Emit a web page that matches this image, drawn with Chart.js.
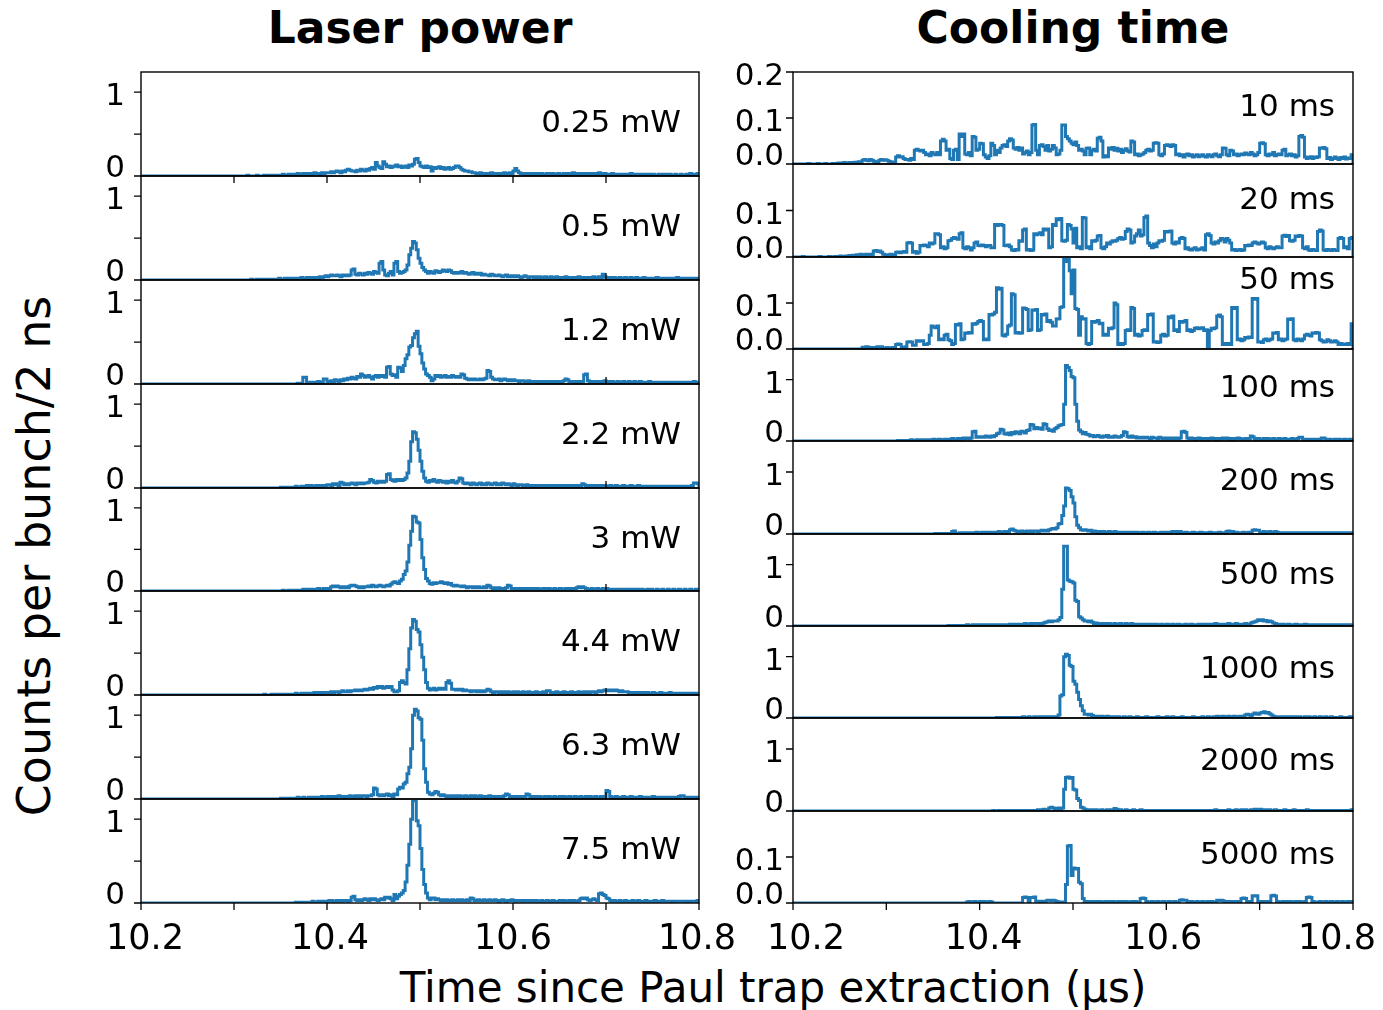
<!DOCTYPE html>
<html>
<head>
<meta charset="utf-8">
<title>Ion arrival histograms</title>
<script src="https://cdn.jsdelivr.net/npm/chart.js@4.4.1/dist/chart.umd.min.js"></script>
<style>
  html, body { margin: 0; padding: 0; background: #fff; }
  #fig { position: relative; width: 1383px; height: 1010px; overflow: hidden;
         font-family: "DejaVu Sans", sans-serif; color: #000; }
  #fig canvas { position: absolute; }
  .txt { position: absolute; white-space: nowrap; line-height: 1; }
  .title { font-weight: bold; font-size: 44px; transform: translateX(-50%); }
</style>
</head>
<body>
<div id="fig">
  <div class="txt title" style="left:420px; top:6px;">Laser power</div>
  <div class="txt title" style="left:1073px; top:6px;">Cooling time</div>
  <div class="txt" style="left:773px; top:967px; font-size:42px; transform:translateX(-50%);">Time since Paul trap extraction (µs)</div>
  <div class="txt" style="left:34px; top:556px; font-size:46px; transform:translate(-50%,-50%) rotate(-90deg);">Counts per bunch/2 ns</div>
</div>
<script>
// ---- binning ----
const BIN_START = 10.2;
const BIN_WIDTH = 0.002;
const X_MIN = 10.2;
const X_MAX = 10.8;

// ---- axis ticks ----
const xMajorTicks = [10.2, 10.4, 10.6, 10.8];
const xTickLabels = ['10.2', '10.4', '10.6', '10.8'];
const xAllTicks = [10.2, 10.3, 10.4, 10.5, 10.6, 10.7, 10.8];

// ---- panel names ----
const laserPowerNames = ['0.25 mW', '0.5 mW', '1.2 mW', '2.2 mW', '3 mW', '4.4 mW', '6.3 mW', '7.5 mW'];
const coolingTimeNames = ['10 ms', '20 ms', '50 ms', '100 ms', '200 ms', '500 ms', '1000 ms', '2000 ms', '5000 ms'];

// ---- y axes ----
const laserYMax = 1.24;
const laserYTicks = [0, 0.5, 1];
const laserYTickLabels = ['0', '', '1'];
const coolingYMax = [0.2, 0.2, 0.2, 1.5, 1.5, 1.5, 1.5, 1.5, 0.2];
const coolingYTicks = [[0, 0.1, 0.2], [0, 0.1], [0, 0.1], [0, 1], [0, 1], [0, 1], [0, 1], [0, 1], [0, 0.1]];
const coolingYTickLabels = [['0.0', '0.1', '0.2'], ['0.0', '0.1'], ['0.0', '0.1'], ['0', '1'], ['0', '1'], ['0', '1'], ['0', '1'], ['0', '1'], ['0.0', '0.1']];

// ---- counts per bunch per 2 ns bin, 10.2 to 10.8 us (300 bins) ----
const laser_0p25mW = [
0,0,0,0,0,0,0,0,0,0,0,
0,0,0,0,0,0,0,0,0,0,
0,0,0,0,0,0,0,0,0,0,
0,0,0,0,0,0,0,0,0,0,
0,0,0,0,0,0,0,0,0,0,
0,0,0,0,0,0,.01,0,0,0,
0,.01,0,0,0,.01,.01,0,.01,0,
.01,.01,0,.01,.01,.02,.01,.01,.02,.01,
.02,.01,.02,.03,.02,.02,.03,.02,.03,.03,
.02,.03,.04,.03,.03,.02,.04,.03,.04,.04,
.04,.05,.04,.05,.06,.05,.04,.06,.05,.07,
.08,.07,.06,.06,.05,.07,.06,.08,.07,.06,
.08,.07,.09,.1,.08,.16,.12,.1,.09,.17,
.14,.11,.12,.1,.11,.12,.13,.11,.12,.1,
.11,.12,.1,.13,.12,.14,.2,.21,.16,.12,
.11,.1,.12,.1,.11,.06,.1,.09,.1,.11,
.09,.1,.08,.09,.1,.08,.09,.1,.12,.12,
.1,.08,.07,.06,.06,.05,.05,.04,.04,.03,
.03,.04,.03,.03,.02,.03,.03,.04,.03,.03,
.03,.02,.03,.03,.04,.03,.03,.04,.03,.06,
.09,.06,.04,.03,.03,.02,.03,.03,.02,.03,
.02,.03,.03,.02,.03,.02,.02,.03,.03,.02,
.03,.02,.02,.03,.02,.02,.03,.02,.03,.03,
.02,.04,.03,.02,.03,.02,.03,.03,.02,.03,
.03,.02,.03,.03,.02,.04,.03,.02,.03,.02,
.02,.02,.03,.02,.02,.01,.02,.02,.01,.02,
.02,.01,.03,.02,.02,.01,.02,.01,.02,.02,
.01,.02,.02,.01,.02,.01,.01,.02,.01,.02,
.01,.02,.01,.02,.01,.01,.02,.01,.01,.02,
.01,.01,.02,.01,.03,.01,.02,.02,.03
];
const laser_0p5mW = [
0,0,0,0,0,0,0,0,0,0,0,
0,0,0,0,0,0,0,0,0,0,
0,0,0,0,0,0,0,0,0,0,
0,0,0,0,0,0,0,0,0,0,
0,0,0,0,0,0,0,0,0,0,
0,0,0,0,0,0,0,0,.01,0,
0,.01,0,.01,0,.01,.01,0,.01,.01,
.01,.01,.01,.02,.01,.01,.02,.01,.02,.01,
.02,.02,.01,.02,.02,.03,.02,.02,.03,.02,
.03,.02,.03,.03,.02,.04,.03,.04,.05,.04,
.05,.06,.05,.05,.06,.05,.04,.06,.05,.06,
.05,.06,.12,.13,.07,.06,.08,.07,.06,.08,
.07,.09,.08,.07,.1,.09,.08,.2,.22,.12,
.06,.05,.08,.1,.06,.2,.22,.1,.08,.09,
.1,.12,.18,.3,.38,.46,.44,.36,.26,.2,
.15,.12,.1,.08,.1,.09,.08,.11,.1,.09,
.1,.12,.11,.1,.12,.11,.09,.08,.09,.08,
.09,.1,.08,.09,.08,.07,.08,.09,.07,.08,
.07,.08,.06,.07,.06,.06,.05,.07,.06,.05,
.05,.06,.05,.04,.05,.06,.04,.05,.04,.05,
.04,.05,.04,.03,.04,.05,.04,.03,.04,.04,
.03,.04,.03,.04,.03,.03,.04,.03,.03,.04,
.03,.03,.04,.03,.02,.03,.03,.04,.03,.03,
.03,.02,.03,.03,.04,.03,.03,.02,.03,.03,
.03,.03,.04,.03,.03,.04,.03,.07,.04,.03,
.02,.03,.02,.03,.02,.02,.03,.02,.02,.03,
.02,.02,.03,.02,.02,.03,.02,.02,.02,.03,
.02,.02,.01,.02,.02,.02,.03,.02,.02,.02,
.02,.01,.02,.02,.02,.01,.02,.03,.02,.02,
.01,.02,.02,.02,.01,.02,.02,.01,.02
];
const laser_1p2mW = [
0,0,0,0,0,0,0,0,0,0,0,
0,0,0,0,0,0,0,0,0,0,
0,0,0,0,0,0,0,0,0,0,
0,0,0,0,0,0,0,0,0,0,
0,0,0,0,0,0,0,0,0,0,
0,0,0,0,0,0,0,0,0,0,
0,0,0,0,0,0,0,0,0,0,
0,0,0,0,0,0,0,0,0,0,
0,0,0,.01,0,.01,.08,.08,.02,.02,
.02,.01,.02,.02,.03,.02,.02,.06,.06,.03,
.03,.04,.03,.05,.04,.03,.05,.04,.06,.05,
.07,.06,.08,.07,.06,.09,.08,.12,.1,.08,
.09,.1,.08,.06,.09,.1,.08,.1,.09,.1,
.08,.2,.21,.12,.1,.11,.08,.2,.19,.15,
.22,.3,.35,.44,.46,.55,.6,.63,.45,.36,
.25,.18,.12,.1,.08,.04,.06,.1,.09,.1,
.08,.09,.1,.08,.09,.08,.1,.09,.08,.09,
.08,.12,.11,.07,.06,.05,.06,.05,.06,.05,
.05,.06,.05,.06,.07,.16,.15,.08,.06,.05,
.05,.06,.04,.05,.06,.05,.04,.05,.04,.05,
.04,.04,.03,.04,.04,.03,.03,.04,.03,.03,
.03,.03,.02,.03,.03,.02,.03,.03,.02,.03,
.03,.02,.03,.03,.02,.03,.04,.06,.05,.03,
.03,.03,.02,.03,.03,.02,.03,.11,.12,.04,
.03,.02,.03,.03,.02,.03,.02,.03,.04,.03,
.03,.02,.03,.02,.02,.03,.02,.02,.03,.02,
.02,.03,.02,.02,.03,.02,.02,.03,.02,.02,
.02,.02,.03,.02,.02,.02,.01,.02,.02,.02,
.02,.01,.02,.02,.01,.02,.02,.02,.01,.02,
.02,.01,.02,.01,.02,.02,.03,.02,.02
];
const laser_2p2mW = [
0,0,0,0,0,0,0,0,0,0,0,
0,0,0,0,0,0,0,0,0,0,
0,0,0,0,0,0,0,0,0,0,
0,0,0,0,0,0,0,0,0,0,
0,0,0,0,0,0,0,0,0,0,
0,0,0,0,0,0,0,0,0,0,
0,0,0,0,0,0,0,0,0,0,
0,0,0,0,.01,0,.01,0,.01,.01,
.01,.01,.02,.01,.01,.02,.01,.02,.03,.02,
.03,.02,.02,.03,.02,.03,.02,.03,.03,.04,
.04,.03,.05,.04,.05,.03,.07,.06,.04,.05,
.04,.05,.06,.05,.04,.06,.05,.06,.05,.06,
.06,.07,.1,.09,.07,.06,.08,.07,.08,.07,
.08,.16,.17,.1,.09,.08,.1,.09,.1,.09,
.1,.12,.18,.32,.55,.67,.66,.58,.45,.32,
.2,.12,.08,.07,.09,.08,.1,.08,.07,.09,
.08,.07,.08,.06,.08,.07,.09,.07,.06,.08,
.12,.11,.06,.05,.06,.05,.04,.06,.05,.04,
.05,.06,.04,.05,.04,.06,.05,.04,.05,.06,
.04,.05,.04,.06,.05,.04,.05,.04,.03,.05,
.04,.03,.04,.04,.03,.03,.04,.03,.03,.02,
.03,.02,.03,.03,.02,.03,.02,.03,.03,.02,
.03,.03,.02,.03,.02,.03,.03,.02,.03,.03,
.02,.03,.03,.02,.03,.03,.05,.04,.03,.02,
.03,.02,.03,.02,.03,.03,.02,.03,.03,.02,
.02,.03,.02,.02,.03,.02,.02,.02,.03,.02,
.02,.02,.03,.02,.02,.02,.03,.02,.02,.02,
.02,.02,.02,.01,.02,.02,.02,.02,.01,.02,
.02,.02,.01,.02,.02,.02,.01,.02,.02,.02,
.02,.02,.02,.02,.02,.03,.06,.06,.05
];
const laser_3mW = [
0,0,0,0,0,0,0,0,0,0,0,
0,0,0,0,0,0,0,0,0,0,
0,0,0,0,0,0,0,0,0,0,
0,0,0,0,0,0,0,0,0,0,
0,0,0,0,0,0,0,0,0,0,
0,0,0,0,0,0,0,0,0,0,
0,0,0,0,0,0,0,0,0,0,
0,0,0,0,0,.01,0,0,.01,0,
.01,0,.01,.01,.01,.01,.02,.01,.02,.01,
.02,.01,.02,.02,.03,.02,.02,.03,.02,.03,
.03,.05,.06,.05,.06,.05,.04,.05,.04,.05,
.04,.06,.07,.07,.06,.05,.04,.05,.04,.05,
.05,.06,.05,.07,.06,.05,.06,.07,.06,.05,
.06,.07,.06,.08,.1,.11,.1,.09,.12,.14,
.2,.24,.35,.55,.72,.9,.89,.83,.82,.62,
.4,.26,.15,.12,.09,.08,.1,.09,.1,.1,
.11,.1,.09,.1,.08,.09,.07,.06,.07,.06,
.06,.05,.06,.05,.04,.05,.05,.04,.05,.04,
.05,.04,.04,.05,.04,.07,.06,.04,.03,.04,
.03,.04,.03,.03,.03,.04,.07,.06,.03,.03,
.02,.03,.03,.02,.03,.03,.02,.03,.02,.03,
.03,.02,.03,.02,.02,.03,.02,.03,.03,.02,
.02,.03,.02,.02,.03,.02,.02,.03,.02,.03,
.02,.03,.03,.04,.05,.04,.05,.04,.03,.02,
.02,.03,.02,.02,.03,.02,.02,.03,.02,.03,
.02,.02,.02,.01,.02,.02,.01,.02,.02,.01,
.02,.01,.02,.02,.01,.02,.02,.01,.02,.01,
.01,.02,.01,.02,.01,.01,.02,.01,.01,.02,
.01,.01,.02,.01,.01,.02,.01,.01,.02,.01,
.01,.02,.01,.01,.02,.01,.01,.02,.01
];
const laser_4p4mW = [
0,0,0,0,0,0,0,0,0,0,0,
0,0,0,0,0,0,0,0,0,0,
0,0,0,0,0,0,0,0,0,0,
0,0,0,0,0,0,0,0,0,0,
0,0,0,0,0,0,0,0,0,0,
0,0,0,0,0,0,0,0,0,0,
0,0,0,0,0,.01,0,0,0,.01,
0,.01,0,.01,.01,0,.01,.01,.01,.01,
.01,.01,.02,.01,.01,.02,.02,.01,.02,.02,
.02,.02,.03,.02,.03,.03,.02,.03,.03,.03,
.03,.04,.03,.04,.04,.03,.04,.05,.04,.04,
.05,.04,.05,.05,.06,.05,.06,.05,.06,.07,
.06,.07,.08,.07,.09,.08,.1,.09,.1,.08,
.09,.1,.09,.1,.06,.04,.04,.05,.15,.17,
.15,.13,.3,.55,.8,.9,.88,.78,.75,.6,
.45,.3,.15,.08,.06,.07,.08,.06,.07,.08,
.07,.08,.07,.15,.17,.14,.07,.07,.06,.07,
.06,.07,.05,.06,.05,.05,.04,.05,.05,.04,
.05,.04,.05,.04,.05,.07,.06,.04,.03,.04,
.04,.03,.04,.03,.04,.03,.04,.03,.03,.04,
.03,.04,.03,.03,.04,.03,.03,.04,.03,.03,
.03,.04,.03,.03,.03,.04,.03,.05,.05,.03,
.03,.03,.04,.03,.03,.03,.04,.03,.03,.03,
.04,.03,.03,.03,.04,.03,.03,.04,.03,.04,
.03,.04,.04,.03,.04,.05,.04,.05,.06,.05,
.06,.05,.06,.05,.06,.05,.04,.05,.04,.04,
.04,.03,.03,.02,.03,.03,.02,.03,.02,.03,
.02,.03,.02,.02,.03,.02,.02,.02,.03,.02,
.02,.02,.02,.03,.02,.02,.02,.02,.02,.01,
.02,.02,.01,.02,.02,.01,.02,.02,.01
];
const laser_6p3mW = [
0,0,0,0,0,0,0,0,0,0,0,
0,0,0,0,0,0,0,0,0,0,
0,0,0,0,0,0,0,0,0,0,
0,0,0,0,0,0,0,0,0,0,
0,0,0,0,0,0,0,0,0,0,
0,0,0,0,0,0,0,0,0,0,
0,0,0,0,0,0,0,0,0,0,
0,0,0,0,.01,0,.01,0,.01,.01,
.01,.01,.01,.02,.01,.01,.02,.01,.01,.02,
.01,.02,.02,.01,.02,.02,.03,.02,.02,.03,
.02,.03,.03,.02,.03,.04,.03,.03,.02,.03,
.03,.04,.03,.03,.04,.03,.04,.03,.04,.04,
.03,.04,.04,.05,.13,.12,.05,.04,.05,.04,
.05,.06,.04,.05,.03,.06,.05,.12,.14,.13,
.18,.2,.3,.38,.6,1.0,1.07,1.05,.97,.95,
.7,.36,.2,.08,.06,.05,.07,.09,.08,.05,
.04,.05,.04,.03,.04,.03,.04,.03,.04,.03,
.04,.03,.03,.04,.03,.03,.04,.03,.04,.03,
.03,.04,.03,.03,.02,.03,.04,.03,.03,.02,
.03,.03,.02,.03,.04,.06,.05,.03,.02,.03,
.03,.02,.03,.02,.03,.03,.06,.05,.02,.03,
.02,.03,.02,.03,.02,.02,.03,.02,.03,.02,
.02,.03,.02,.02,.03,.02,.03,.02,.02,.03,
.02,.02,.03,.02,.02,.03,.02,.02,.03,.02,
.03,.02,.02,.03,.02,.02,.03,.02,.03,.1,
.09,.03,.02,.02,.03,.02,.02,.02,.03,.02,
.02,.02,.03,.02,.02,.02,.02,.03,.02,.02,
.02,.02,.02,.02,.03,.02,.02,.02,.02,.02,
.02,.02,.02,.02,.02,.02,.02,.02,.03,.04,
.04,.02,.02,.02,.02,.02,.01,.02,.02
];
const laser_7p5mW = [
0,0,0,0,0,0,0,0,0,0,0,
0,0,0,0,0,0,0,0,0,0,
0,0,0,0,0,0,0,0,0,0,
0,0,0,0,0,0,0,0,0,0,
0,0,0,0,0,0,0,0,0,0,
0,0,0,0,0,0,0,0,0,0,
0,0,0,0,0,0,0,0,0,0,
0,0,0,0,0,0,0,0,0,0,
0,0,.01,0,.01,.01,0,.01,.01,.01,
.01,.02,.01,.01,.02,.01,.02,.02,.01,.02,
.03,.03,.02,.02,.03,.02,.03,.02,.03,.03,
.02,.03,.07,.08,.04,.03,.04,.03,.04,.05,
.04,.03,.05,.04,.05,.04,.03,.04,.05,.04,
.07,.06,.07,.05,.03,.1,.05,.08,.1,.12,
.15,.25,.45,.7,1.0,1.22,1.22,.98,.92,.65,
.4,.22,.12,.06,.04,.06,.06,.04,.05,.04,
.03,.04,.03,.04,.03,.03,.04,.03,.03,.04,
.03,.04,.03,.03,.04,.03,.06,.05,.03,.03,
.04,.03,.03,.04,.03,.03,.04,.03,.03,.04,
.03,.02,.03,.04,.03,.02,.03,.03,.04,.03,
.02,.03,.03,.02,.03,.02,.03,.03,.02,.03,
.02,.03,.02,.02,.03,.02,.02,.03,.02,.02,
.03,.02,.02,.02,.03,.02,.03,.02,.02,.03,
.02,.03,.02,.02,.03,.05,.06,.05,.06,.04,
.03,.04,.05,.04,.03,.11,.12,.1,.09,.06,
.05,.03,.02,.03,.02,.02,.03,.02,.02,.03,
.02,.02,.02,.03,.02,.02,.03,.02,.02,.02,
.03,.02,.02,.02,.02,.03,.02,.02,.02,.03,
.02,.02,.02,.02,.01,.02,.02,.02,.02,.02,
.02,.02,.01,.02,.02,.02,.02,.02,.03
];

const cool_10ms = [
0,0,0,0,0,0,0,0,.001,0,0,
0,0,.001,0,0,0,.001,0,0,0,
.001,0,.001,.002,.001,.002,.003,.002,.002,.003,
.003,.002,.004,.003,.005,.004,.008,.01,.008,.007,
.01,.008,.006,.005,.003,.008,.01,.008,.009,.008,
.006,.005,.004,.003,.015,.018,.015,.016,.012,.01,
.01,.008,.012,.01,.03,.032,.03,.028,.03,.025,
.02,.022,.018,.025,.022,.02,.025,.02,.05,.054,
.05,.03,.032,.012,.01,.03,.032,.01,.065,.06,
.065,.022,.02,.025,.018,.06,.058,.03,.032,.045,
.044,.02,.015,.012,.018,.045,.04,.02,.03,.025,
.035,.04,.042,.038,.05,.055,.052,.035,.032,.036,
.03,.035,.022,.025,.028,.02,.025,.085,.086,.03,
.02,.04,.042,.038,.03,.04,.028,.032,.04,.035,
.02,.022,.03,.085,.085,.06,.055,.05,.045,.042,
.048,.04,.03,.032,.028,.02,.034,.035,.02,.03,
.032,.028,.056,.058,.05,.015,.018,.016,.035,.032,
.036,.03,.034,.028,.032,.025,.03,.033,.028,.026,
.05,.048,.02,.022,.018,.02,.022,.025,.03,.032,
.028,.03,.045,.046,.045,.02,.018,.022,.04,.042,
.04,.038,.042,.04,.02,.022,.018,.02,.015,.02,
.022,.018,.02,.015,.018,.02,.016,.018,.02,.017,
.015,.02,.018,.016,.02,.022,.018,.016,.02,.035,
.034,.02,.018,.03,.028,.02,.022,.018,.02,.022,
.02,.024,.022,.02,.025,.022,.018,.02,.025,.045,
.046,.044,.02,.018,.022,.02,.025,.018,.02,.022,
.02,.03,.032,.018,.02,.022,.018,.02,.015,.018,
.06,.062,.058,.015,.012,.014,.016,.012,.015,.014,
.016,.035,.034,.036,.033,.012,.014,.01,.012,.015,
.012,.01,.014,.012,.015,.011,.013,.012,.02
];
const cool_20ms = [
0,0,0,0,0,.001,0,0,0,0,0,
0,0,0,.001,0,0,0,0,.001,0,
0,.001,0,.001,.002,.001,.001,.002,.001,.003,
.003,.004,.003,.005,.004,.006,.005,.004,.006,.005,
.006,.005,.013,.014,.012,.013,.01,.006,.005,.004,
.005,.006,.004,.005,.01,.011,.009,.01,.012,.01,
.03,.031,.03,.01,.012,.008,.01,.025,.024,.026,
.025,.022,.03,.028,.03,.05,.05,.048,.02,.022,
.018,.02,.035,.036,.04,.042,.04,.038,.05,.052,
.02,.018,.022,.02,.015,.02,.03,.032,.025,.024,
.026,.025,.022,.024,.025,.02,.02,.07,.068,.07,
.07,.068,.025,.024,.026,.022,.015,.014,.016,.015,
.035,.034,.058,.06,.015,.016,.014,.015,.05,.048,
.05,.052,.048,.06,.058,.06,.02,.022,.07,.068,
.082,.08,.083,.035,.034,.036,.07,.068,.06,.03,
.062,.02,.022,.018,.085,.084,.02,.022,.018,.035,
.034,.036,.045,.046,.02,.018,.022,.03,.028,.032,
.035,.034,.036,.04,.042,.038,.04,.055,.06,.058,
.03,.032,.045,.05,.058,.045,.048,.085,.088,.03,
.025,.02,.028,.022,.03,.035,.034,.036,.055,.054,
.055,.056,.03,.028,.032,.03,.04,.042,.04,.018,
.02,.016,.015,.018,.02,.015,.016,.018,.02,.015,
.048,.05,.046,.03,.028,.032,.03,.035,.04,.038,
.032,.04,.036,.03,.015,.016,.014,.015,.016,.014,
.015,.025,.024,.026,.025,.03,.032,.03,.028,.03,
.032,.03,.02,.018,.022,.02,.018,.02,.022,.02,
.02,.045,.047,.044,.046,.035,.034,.036,.045,.044,
.046,.045,.02,.018,.022,.015,.014,.016,.015,.014,
.055,.058,.056,.015,.014,.016,.015,.014,.016,.015,
.014,.04,.042,.04,.02,.022,.018,.04,.042
];
const cool_50ms = [
0,0,0,0,0,0,0,0,0,0,0,
0,0,0,0,0,0,0,0,0,0,
0,0,0,0,0,0,0,0,0,0,
0,0,0,0,0,0,.004,.004,.005,.004,
.003,.003,.003,.003,.005,.005,.005,.002,.002,.003,
.002,.002,.003,.002,.01,.011,.01,.004,.004,.005,
.015,.016,.015,.008,.008,.018,.017,.018,.018,.01,
.01,.012,.03,.05,.048,.046,.05,.02,.022,.02,
.03,.032,.02,.018,.01,.012,.053,.052,.055,.02,
.022,.035,.034,.036,.035,.055,.054,.056,.06,.062,
.06,.02,.022,.02,.075,.074,.076,.08,.133,.13,
.132,.03,.028,.032,.05,.052,.12,.118,.035,.036,
.034,.035,.089,.088,.086,.04,.042,.085,.084,.086,
.04,.042,.075,.074,.076,.06,.062,.058,.05,.05,
.065,.066,.09,.092,.195,.19,.196,.17,.12,.172,
.088,.086,.03,.07,.065,.066,.012,.01,.012,.06,
.058,.06,.062,.055,.056,.03,.032,.03,.045,.044,
.046,.1,.096,.01,.012,.01,.012,.04,.042,.04,
.09,.088,.03,.032,.028,.03,.04,.042,.04,.075,
.074,.076,.015,.016,.014,.015,.03,.032,.028,.03,
.07,.068,.072,.04,.042,.038,.06,.058,.06,.062,
.04,.042,.038,.04,.045,.046,.044,.045,.046,.04,
.042,.005,.04,.045,.044,.046,.072,.074,.07,.01,
.012,.01,.012,.01,.09,.088,.09,.02,.022,.018,
.02,.025,.024,.026,.025,.11,.108,.11,.015,.016,
.014,.02,.022,.018,.02,.022,.035,.034,.036,.02,
.022,.018,.02,.022,.065,.064,.066,.02,.018,.022,
.02,.018,.022,.03,.032,.03,.028,.035,.034,.036,
.035,.02,.018,.015,.016,.02,.018,.015,.016,.018,
.015,.01,.012,.01,.011,.01,.012,.01,.055
];
const cool_100ms = [
0,0,0,0,0,0,0,0,0,0,0,
0,0,0,0,0,0,0,0,0,0,
0,0,0,0,0,0,0,0,0,0,
0,0,0,0,0,0,0,0,0,0,
0,0,0,0,0,0,0,0,0,0,
0,0,0,0,0,.01,0,.01,0,.01,
.01,.01,.02,.01,.01,.02,.01,.02,.02,.01,
.02,.02,.01,.02,.03,.02,.02,.03,.02,.02,
.03,.02,.03,.03,.04,.03,.03,.04,.03,.04,
.05,.04,.05,.04,.05,.15,.16,.06,.07,.06,
.07,.06,.08,.07,.06,.08,.07,.09,.12,.13,
.19,.18,.12,.11,.13,.1,.14,.12,.15,.14,
.12,.16,.15,.13,.17,.18,.27,.26,.2,.22,
.2,.21,.19,.28,.27,.2,.17,.18,.16,.2,
.22,.25,.26,.27,.6,1.23,1.2,1.15,1.05,1.03,
.6,.32,.18,.15,.12,.14,.11,.1,.08,.09,
.07,.08,.09,.07,.06,.08,.07,.09,.06,.07,
.06,.08,.07,.06,.07,.09,.15,.14,.07,.06,
.08,.06,.07,.05,.06,.05,.06,.05,.06,.05,
.04,.06,.05,.05,.04,.06,.05,.04,.05,.04,
.05,.04,.05,.04,.05,.04,.05,.15,.16,.14,
.05,.04,.05,.04,.03,.04,.05,.04,.03,.04,
.04,.03,.04,.05,.04,.03,.04,.03,.04,.05,
.04,.05,.04,.03,.04,.03,.04,.05,.04,.03,
.03,.04,.03,.04,.08,.07,.04,.03,.04,.03,
.03,.04,.03,.04,.03,.03,.04,.03,.03,.04,
.03,.03,.04,.03,.03,.03,.04,.03,.03,.04,
.06,.06,.03,.03,.02,.03,.03,.02,.03,.02,
.03,.02,.05,.05,.03,.02,.03,.02,.02,.03,
.02,.03,.02,.02,.03,.02,.02,.03,.02
];
const cool_200ms = [
0,0,0,0,0,0,0,0,0,0,0,
0,0,0,0,0,0,0,0,0,0,
0,0,0,0,0,0,0,0,0,0,
0,0,0,0,0,0,0,0,0,0,
0,0,0,0,0,0,0,0,0,0,
0,0,0,0,0,0,0,0,0,0,
0,0,0,0,0,0,0,0,0,0,
0,0,0,0,0,.01,0,.01,.01,0,
.01,.01,.01,.01,.04,.05,.01,.01,.02,.01,
.02,.01,.02,.02,.01,.02,.02,.03,.02,.02,
.03,.02,.03,.02,.03,.03,.02,.03,.03,.04,
.03,.03,.04,.03,.04,.07,.08,.06,.05,.04,
.04,.05,.04,.03,.05,.04,.05,.04,.05,.05,
.04,.05,.06,.05,.06,.05,.07,.08,.09,.08,
.1,.16,.17,.3,.45,.74,.73,.7,.6,.5,
.28,.14,.1,.07,.06,.07,.06,.05,.06,.04,
.05,.04,.03,.04,.03,.04,.03,.03,.04,.03,
.03,.04,.03,.03,.02,.03,.03,.02,.03,.03,
.02,.03,.02,.03,.02,.02,.03,.02,.02,.03,
.02,.02,.03,.02,.02,.02,.03,.02,.03,.03,
.03,.03,.04,.04,.04,.03,.04,.02,.02,.03,
.02,.02,.02,.03,.02,.02,.02,.03,.02,.02,
.02,.02,.03,.02,.02,.02,.02,.03,.02,.02,
.02,.04,.05,.04,.04,.02,.03,.02,.02,.02,
.03,.02,.02,.03,.02,.06,.07,.06,.06,.03,
.03,.04,.03,.03,.04,.03,.03,.04,.03,.02,
.02,.02,.02,.01,.02,.02,.02,.01,.02,.02,
.02,.01,.02,.02,.02,.01,.02,.02,.01,.02,
.02,.02,.01,.02,.02,.02,.01,.02,.02,.01,
.02,.01,.02,.02,.01,.02,.02,.01,.02
];
const cool_500ms = [
0,0,0,0,0,0,0,0,0,0,0,
0,0,0,0,0,0,0,0,0,0,
0,0,0,0,0,0,0,0,0,0,
0,0,0,0,0,0,0,0,0,0,
0,0,0,0,0,0,0,0,0,0,
0,0,0,0,0,0,0,0,0,0,
0,0,0,0,0,0,0,0,0,0,
0,0,0,0,0,0,0,0,0,0,
0,0,.01,0,.01,.01,.01,0,.01,.01,
.01,.01,.02,.01,.01,.02,.01,.02,.01,.02,
.02,.01,.02,.02,.01,.02,.02,.01,.02,.02,
.02,.02,.01,.02,.02,.03,.02,.03,.02,.03,
.03,.02,.03,.04,.03,.03,.04,.03,.04,.04,
.04,.03,.04,.05,.06,.07,.08,.07,.08,.08,
.08,.1,.14,.6,1.3,1.3,.75,.73,.72,.7,
.42,.4,.15,.13,.1,.08,.08,.07,.08,.06,
.04,.05,.04,.03,.04,.03,.04,.03,.04,.03,
.03,.04,.03,.03,.04,.03,.03,.04,.03,.03,
.04,.03,.03,.02,.03,.03,.02,.03,.02,.03,
.02,.03,.02,.03,.02,.02,.03,.02,.02,.03,
.02,.02,.03,.02,.02,.03,.02,.02,.02,.03,
.02,.02,.03,.02,.02,.02,.03,.03,.02,.03,
.03,.03,.02,.03,.03,.04,.03,.03,.03,.02,
.03,.03,.04,.03,.03,.03,.04,.03,.03,.03,
.03,.04,.03,.03,.05,.06,.07,.08,.1,.09,
.1,.08,.09,.07,.08,.07,.05,.04,.03,.03,
.02,.03,.02,.02,.03,.02,.02,.02,.03,.02,
.02,.02,.02,.03,.02,.02,.02,.02,.02,.02,
.02,.02,.01,.02,.02,.02,.02,.01,.02,.02,
.02,.01,.02,.02,.02,.01,.02,.02,.01
];
const cool_1000ms = [
0,0,0,0,0,0,0,0,0,0,0,
0,0,0,0,0,0,0,0,0,0,
0,0,0,0,0,0,0,0,0,0,
0,0,0,0,0,0,0,0,0,0,
0,0,0,0,0,0,0,0,0,0,
0,0,0,0,0,0,0,0,0,0,
0,0,0,0,0,0,0,0,0,0,
0,0,0,0,0,0,0,0,0,0,
0,0,0,0,0,0,0,0,0,0,
0,0,0,0,0,0,0,0,0,0,
0,0,0,0,0,0,0,0,.01,0,
.01,0,.01,.01,0,.01,.01,.01,0,.01,
.01,.01,.02,.01,.01,.02,.01,.01,.02,.01,
.02,.01,.02,.02,.01,.02,.02,.02,.01,.02,
.02,.05,.36,.38,1.0,1.04,1.02,.86,.84,.6,
.55,.42,.3,.2,.12,.06,.06,.05,.06,.04,
.03,.02,.03,.02,.03,.02,.02,.03,.02,.02,
.02,.01,.02,.02,.01,.01,.02,.01,.01,.02,
.01,.01,.01,.02,.01,.01,.01,.01,.02,.01,
.01,.01,.01,.01,.02,.01,.01,.01,.01,.02,
.01,.01,.02,.01,.01,.01,.01,.02,.01,.01,
.01,.01,.01,.02,.01,.01,.01,.01,.02,.01,
.01,.02,.01,.01,.02,.02,.03,.02,.02,.03,
.02,.02,.03,.02,.02,.03,.02,.02,.03,.02,
.03,.05,.06,.05,.04,.06,.08,.07,.06,.08,
.09,.1,.08,.09,.07,.05,.03,.02,.02,.02,
.02,.01,.02,.02,.01,.02,.02,.01,.02,.01,
.02,.01,.01,.02,.01,.02,.01,.01,.02,.01,
.01,.02,.01,.01,.02,.01,.01,.02,.01,.01,
.01,.01,.02,.01,.01,.01,.01,.02,.01
];
const cool_2000ms = [
0,0,0,0,0,0,0,0,0,0,0,
0,0,0,0,0,0,0,0,0,0,
0,0,0,0,0,0,0,0,0,0,
0,0,0,0,0,0,0,0,0,0,
0,0,0,0,0,0,0,0,0,0,
0,0,0,0,0,0,0,0,0,0,
0,0,0,0,0,0,0,0,0,0,
0,0,0,0,0,0,0,0,0,0,
0,0,0,0,0,0,0,0,0,0,
0,0,0,0,0,0,0,0,0,0,
0,0,0,0,0,0,.01,0,0,.01,
0,.01,0,.01,0,.01,0,.01,.01,0,
.01,0,.01,.01,0,.01,.01,0,.01,.01,
.02,.01,.02,.03,.02,.01,.05,.06,.05,.03,
.04,.05,.03,.05,.35,.54,.55,.53,.54,.35,
.34,.2,.17,.06,.05,.03,.02,.02,.01,.02,
.01,.02,.01,.01,.02,.01,.01,.02,.01,.02,
.02,.04,.03,.01,.02,.01,.01,.02,.01,.01,
.01,.02,.01,.01,.01,.02,.01,.01,.01,.01,
.01,0,.01,.01,0,.01,.01,0,.01,.01,
0,.01,.01,0,.01,0,.01,.01,0,.01,
.01,0,.01,.01,0,.01,0,.01,.01,0,
.01,.01,0,.01,.01,.02,.01,.01,0,.01,
.01,.01,.02,.01,.01,.01,.02,.01,.01,.02,
.01,.02,.01,.01,.02,.01,.03,.03,.02,.03,
.02,.01,.02,.01,.02,.01,.01,.02,.01,.01,
.01,.01,.02,.01,.01,.01,.01,.02,.01,.01,
.01,.01,.01,.01,.02,.01,.01,.01,.01,.01,
.01,.01,.01,.01,.01,.01,.01,.01,.01,.01,
.01,.01,.01,.01,.01,.01,.01,.01,.02
];
const cool_5000ms = [
0,0,0,0,0,0,0,0,0,0,0,
0,0,0,0,0,0,0,0,0,0,
0,0,0,0,0,0,0,0,0,0,
0,0,0,0,0,0,0,0,0,0,
0,0,0,0,0,0,0,0,0,0,
0,0,0,0,0,0,0,0,0,0,
0,0,0,0,0,0,0,0,0,0,
0,0,0,0,0,0,0,0,0,0,
0,0,0,0,0,0,0,0,0,0,
0,0,.002,.003,.002,.002,.003,.002,.002,.003,
.002,.003,.002,.002,.003,.002,0,0,0,0,
0,0,0,0,0,0,0,0,0,0,
0,0,.012,.013,.012,.003,.012,.012,.013,.004,
.004,.003,.004,.003,.004,.006,.006,.005,.006,.005,
.003,.002,.002,.002,.002,.04,.124,.125,.06,.076,
.074,.075,.045,.042,.01,.003,.002,.003,.002,.003,
.002,.003,.002,.003,.002,.002,.003,.002,.003,.002,
.003,.002,.002,.003,.002,.003,.002,.003,.002,.002,
.003,.002,.003,.002,.002,.01,.011,.01,.003,.002,
.002,.003,.002,.002,.003,.002,.002,.003,.002,.002,
.003,.002,.002,.003,.002,.002,.006,.007,.006,.006,
.003,.002,.003,.002,.002,.003,.002,.002,.003,.002,
.002,.003,.002,.003,.002,.002,.006,.005,.006,.005,
.003,.002,.003,.002,.003,.003,.002,.003,.003,.01,
.011,.01,.003,.002,.003,.016,.015,.016,.003,.002,
.003,.002,.003,.002,.003,.016,.017,.015,.003,.002,
.002,.003,.002,.003,.002,.003,.002,.002,.003,.002,
.003,.002,.002,.003,.012,.013,.012,.003,.002,.002,
.002,.003,.002,.002,.003,.002,.002,.003,.002,.002,
.003,.002,.002,.003,.002,.002,.003,.002,.003
];

const laserPowerSeries = [laser_0p25mW, laser_0p5mW, laser_1p2mW, laser_2p2mW, laser_3mW, laser_4p4mW, laser_6p3mW, laser_7p5mW];
const coolingTimeSeries = [cool_10ms, cool_20ms, cool_50ms, cool_100ms, cool_200ms, cool_500ms, cool_1000ms, cool_2000ms, cool_5000ms];

// ---- page layout ----
const FONT = '"DejaVu Sans", sans-serif';
const LINE_COLOR = '#1f77b4';
const LINE_WIDTH = 3;
const TICK_LEN = 7;
const Y_TICK_FONT = 31;
const X_TICK_FONT = 35;
const NOTE_FONT = 31;
const FRAME_TOP = 72;
const FRAME_BOTTOM = 903;
const leftColumn = { left: 141, right: 699, yLabelGap: 16, xLabelShift: [4, 3, 0, -2] };
const rightColumn = { left: 793, right: 1353, yLabelGap: 9, xLabelShift: [13, 4, -3, -16] };
const laserNoteBaseline = [60, 60, 60, 60, 60, 60, 60, 60];
const coolingNoteBaseline = [44, 45, 32, 48, 49, 50, 52, 52, 53];

const fig = document.getElementById('fig');

// frame, ticks, tick labels and panel name, drawn over the trace
function framePlugin(cfg) {
  return {
    id: 'panelFrame',
    afterDatasetsDraw(chart) {
      const ctx = chart.ctx;
      const a = chart.chartArea;
      const xs = chart.scales.x;
      const ys = chart.scales.y;
      ctx.save();
      ctx.strokeStyle = '#000';
      ctx.fillStyle = '#000';
      ctx.lineWidth = 1.4;
      ctx.strokeRect(a.left, a.top, a.right - a.left, a.bottom - a.top);

      ctx.lineWidth = 1.3;
      ctx.beginPath();
      cfg.yTicks.forEach(v => {
        const py = ys.getPixelForValue(v);
        ctx.moveTo(a.left - TICK_LEN, py);
        ctx.lineTo(a.left, py);
      });
      const below = cfg.bottomAxis ? xAllTicks : (cfg.ticksBelow || []);
      below.forEach(v => {
        const px = xs.getPixelForValue(v);
        ctx.moveTo(px, a.bottom);
        ctx.lineTo(px, a.bottom + TICK_LEN);
      });
      (cfg.ticksAbove || []).forEach(v => {
        const px = xs.getPixelForValue(v);
        ctx.moveTo(px, a.bottom);
        ctx.lineTo(px, a.bottom - TICK_LEN);
      });
      ctx.stroke();

      ctx.font = Y_TICK_FONT + 'px ' + FONT;
      ctx.textAlign = 'right';
      ctx.textBaseline = 'alphabetic';
      cfg.yTicks.forEach((v, k) => {
        const t = cfg.yTickLabels[k];
        if (!t) return;
        const py = ys.getPixelForValue(v);
        ctx.fillText(t, a.left - cfg.col.yLabelGap, py + (v === 0 ? 1 : 13));
      });

      if (cfg.bottomAxis) {
        ctx.font = X_TICK_FONT + 'px ' + FONT;
        ctx.textAlign = 'center';
        xMajorTicks.forEach((v, k) => {
          ctx.fillText(xTickLabels[k], xs.getPixelForValue(v) + cfg.col.xLabelShift[k], a.bottom + 46);
        });
      }

      ctx.font = NOTE_FONT + 'px ' + FONT;
      ctx.textAlign = 'right';
      ctx.fillText(cfg.name, a.right - 18, a.top + cfg.noteBaseline);
      ctx.restore();
    }
  };
}

function buildPanel(cfg) {
  const padL = 110, padR = 60, padT = 14, padB = cfg.bottomAxis ? 70 : 14;
  const top = Math.round(cfg.top);
  const bottom = Math.round(cfg.bottom);
  const w = cfg.col.right - cfg.col.left;
  const h = bottom - top;
  const canvas = document.createElement('canvas');
  canvas.width = w + padL + padR;
  canvas.height = h + padT + padB;
  canvas.style.left = (cfg.col.left - padL) + 'px';
  canvas.style.top = (top - padT) + 'px';
  fig.appendChild(canvas);

  if (cfg.values.length !== 300) console.error('bin count', cfg.name, cfg.values.length);
  // bin left edges, plus the closing edge of the last bin
  const points = cfg.values.map((v, i) => ({ x: BIN_START + i * BIN_WIDTH, y: v }));
  points.push({ x: BIN_START + cfg.values.length * BIN_WIDTH, y: 0 });

  new Chart(canvas, {
    type: 'line',
    data: {
      datasets: [{
        data: points,
        stepped: true,
        borderColor: LINE_COLOR,
        borderWidth: LINE_WIDTH,
        pointRadius: 0,
        fill: false,
        clip: 0
      }]
    },
    options: {
      responsive: false,
      animation: false,
      events: [],
      devicePixelRatio: 1,
      layout: { padding: { left: padL, right: padR, top: padT, bottom: padB } },
      scales: {
        x: { type: 'linear', min: X_MIN, max: X_MAX, display: false },
        y: { type: 'linear', min: 0, max: cfg.ymax, display: false }
      },
      plugins: { legend: { display: false }, tooltip: { enabled: false } }
    },
    plugins: [framePlugin(cfg)]
  });
}

// left column: laser power scan
const nL = laserPowerSeries.length;
const hL = (FRAME_BOTTOM - FRAME_TOP) / nL;
laserPowerSeries.forEach((values, i) => {
  buildPanel({
    col: leftColumn,
    top: FRAME_TOP + i * hL,
    bottom: FRAME_TOP + (i + 1) * hL,
    values: values,
    ymax: laserYMax,
    yTicks: laserYTicks,
    yTickLabels: laserYTickLabels,
    name: laserPowerNames[i],
    noteBaseline: laserNoteBaseline[i],
    bottomAxis: i === nL - 1,
    ticksBelow: i === 0 ? [10.3, 10.4, 10.5, 10.6, 10.7] : [],
    ticksAbove: (i > 0 && i < nL - 1) ? [10.7] : []
  });
});

// right column: cooling time scan
const nR = coolingTimeSeries.length;
const hR = (FRAME_BOTTOM - FRAME_TOP) / nR;
coolingTimeSeries.forEach((values, i) => {
  buildPanel({
    col: rightColumn,
    top: FRAME_TOP + i * hR,
    bottom: FRAME_TOP + (i + 1) * hR,
    values: values,
    ymax: coolingYMax[i],
    yTicks: coolingYTicks[i],
    yTickLabels: coolingYTickLabels[i],
    name: coolingTimeNames[i],
    noteBaseline: coolingNoteBaseline[i],
    bottomAxis: i === nR - 1
  });
});
</script>
</body>
</html>
